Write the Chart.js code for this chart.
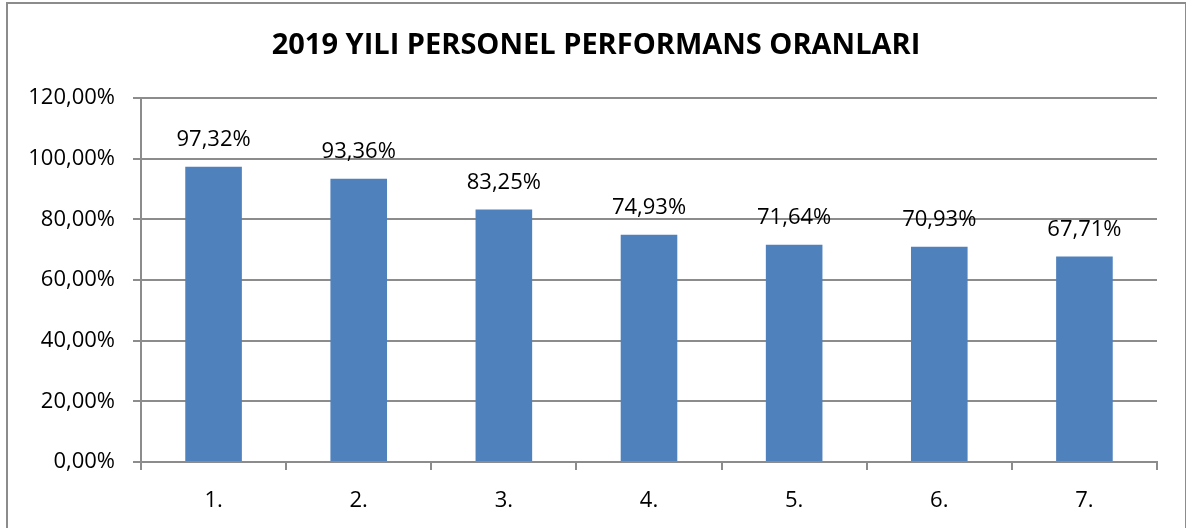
<!DOCTYPE html>
<html>
<head>
<meta charset="utf-8">
<script src="https://cdn.jsdelivr.net/npm/chart.js@4.4.1/dist/chart.umd.min.js"></script>
<style>
  html, body { margin: 0; padding: 0; background: #fff; overflow: hidden; }
  #wrap { position: relative; width: 1186px; height: 528px; }
  #frame { position: absolute; left: 6px; top: 2px; width: 1177px; height: 540px;
           border: 2px solid #8c8c8c; pointer-events: none; }
</style>
</head>
<body>
<div id="wrap">
  <canvas id="myChart" width="1186" height="528"></canvas>
  <div id="frame"></div>
</div>
<script>
// data
const categories = ['1.', '2.', '3.', '4.', '5.', '6.', '7.'];
const oranlar = [97.32, 93.36, 83.25, 74.93, 71.64, 70.93, 67.71];
const yTicks = [0, 20, 40, 60, 80, 100, 120];
const chartTitle = '2019 YILI PERSONEL PERFORMANS ORANLARI';

const fmt = v => v.toFixed(2).replace('.', ',') + '%';
const FONT = "'Open Sans', 'Noto Sans', sans-serif";

// labels above bars + title
const labelsPlugin = {
  id: 'labelsPlugin',
  afterDatasetsDraw(chart) {
    const c = chart.ctx;
    const meta = chart.getDatasetMeta(0);
    c.save();
    c.fillStyle = '#000';
    c.font = '22px ' + FONT;
    c.textAlign = 'center';
    c.textBaseline = 'middle';
    meta.data.forEach((bar, i) => {
      c.fillText(fmt(oranlar[i]), bar.x, bar.y - 27);
    });
    c.font = 'bold 29px ' + FONT;
    c.fillText(chartTitle, 596, 46);
    c.restore();
  }
};

const ctx = document.getElementById('myChart');

new Chart(ctx, {
  type: 'bar',
  data: {
    labels: categories,
    datasets: [{
      data: oranlar,
      backgroundColor: '#4F81BD',
      borderWidth: 0,
      barPercentage: 0.39,
      categoryPercentage: 1
    }]
  },
  options: {
    responsive: false,
    animation: false,
    events: [],
    layout: { padding: { left: 0, right: 29, top: 98, bottom: 0 } },
    plugins: {
      legend: { display: false },
      tooltip: { enabled: false }
    },
    scales: {
      x: {
        afterFit(scale) { scale.height = 66; },
        grid: { display: true, drawOnChartArea: false, tickLength: 8, color: '#8c8c8c', lineWidth: 2, offset: true },
        border: { display: true, color: '#8c8c8c', width: 2 },
        ticks: { color: '#000', font: { size: 22, family: FONT }, padding: 18 }
      },
      y: {
        min: 0,
        max: 120,
        afterFit(scale) { scale.width = 141; },
        afterBuildTicks(scale) { scale.ticks = yTicks.map(v => ({ value: v })); },
        grid: { color: '#8c8c8c', lineWidth: 2, tickLength: 8 },
        border: { display: true, color: '#8c8c8c', width: 2 },
        ticks: { color: '#000', font: { size: 22, family: FONT }, padding: 18,
                 callback: v => fmt(v) }
      }
    }
  },
  plugins: [labelsPlugin]
});
</script>
</body>
</html>
